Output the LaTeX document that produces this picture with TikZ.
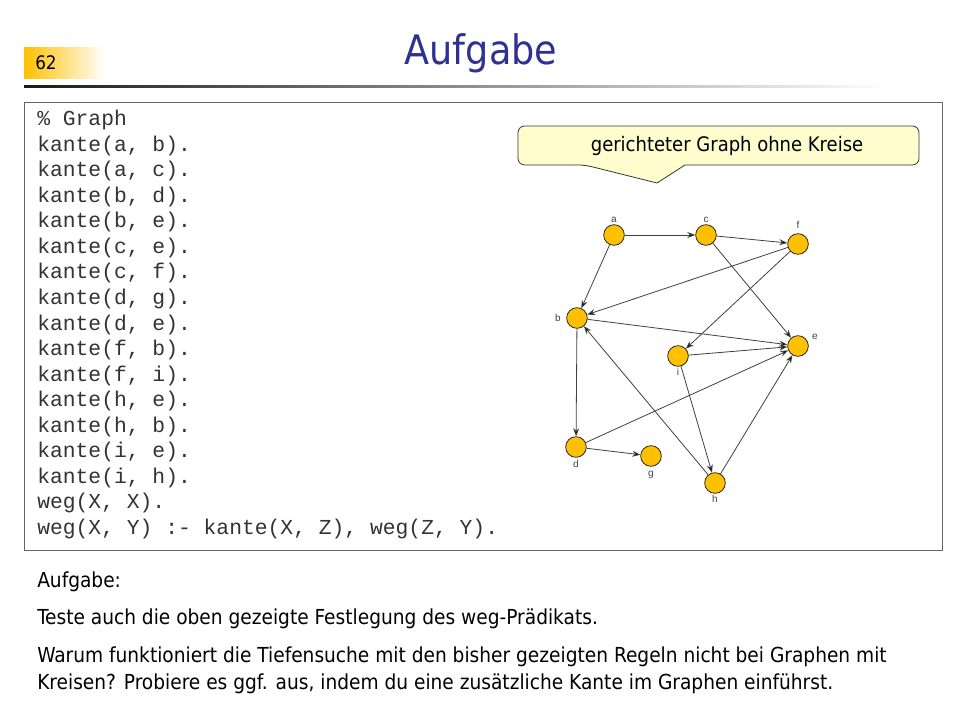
\documentclass[tikz,border=0pt]{standalone}
\usepackage{fontspec}
\setmainfont{DejaVu Sans Condensed}
\setmonofont{Liberation Mono}
\newfontfamily\knotenfont{Liberation Sans}
\usepackage{tikz}
\usetikzlibrary{arrows.meta}
\definecolor{titelblau}{RGB}{46,49,146}
\definecolor{gold}{RGB}{255,192,0}
\definecolor{hinweisgelb}{RGB}{255,253,206}
\tikzset{
  knoten/.style={
    circle,
    draw=black!85, semithick,
    fill=gold,
    minimum size=15.5pt,
    inner sep=0pt,
  },
  knotenlabel/.style={
    font=\knotenfont\fontsize{7.5}{8}\selectfont,
    text=black!75,
    inner sep=1pt,
  },
  kante/.style={
    ->, >={Stealth[length=6pt,width=4.5pt]},
    draw=black!75, line width=0.6pt,
  },
  code/.style={
    font=\ttfamily\fontsize{16}{19}\selectfont,
    text=black!80,
    inner sep=0pt,
  },
  fliesstext/.style={
    font=\fontsize{15.5}{20}\selectfont,
    align=left,
    inner sep=0pt,
  },
}

\begin{document}
\begin{tikzpicture}[x=0.75pt,y=-0.75pt]
  \useasboundingbox (0,0) rectangle (960,720);
  % Kopfzeile
  \shade[left color=gold, right color=white] (24,48) rectangle (105,79);
  \node[anchor=base west, inner sep=0pt, font=\fontsize{14}{16}\selectfont] (nr) at (35,70) {62};
  \node[anchor=base, inner sep=0pt, text=titelblau, font=\fontsize{30.5}{34}\selectfont] (titel) at (481,65) {Aufgabe};
  \shade[left color=black!90, right color=white] (24,85.5) rectangle (890,88);

  % Programm
  \draw[draw=black!60, line width=0.75pt] (24,103) rectangle (942,550);
  \foreach \zeile [count=\n] in {{\% Graph}, {kante(a, b).}, {kante(a, c).}, {kante(b, d).},
      {kante(b, e).}, {kante(c, e).}, {kante(c, f).}, {kante(d, g).}, {kante(d, e).},
      {kante(f, b).}, {kante(f, i).}, {kante(h, e).}, {kante(h, b).}, {kante(i, e).},
      {kante(i, h).}, {weg(X, X).}, {weg(X, Y) :- kante(X, Z), weg(Z, Y).}}
    \node[code, anchor=base west] (z\n) at (37,{126+25.5*(\n-1)}) {\zeile};

  % Sprechblase
  \draw[draw=black!80, fill=hinweisgelb, line width=0.6pt]
    (585,165) -- (657,183) -- (685,165) [rounded corners=5pt] -- (919,165)
    -- (919,126) -- (518,126) -- (518,165) -- cycle;
  \node[anchor=base, inner sep=0pt, font=\fontsize{15}{17}\selectfont] (hinweis) at (727,152) {gerichteter Graph ohne Kreise};

  % Graph
  \node[knoten, label={[knotenlabel]above:a}] (a) at (614,235) {};
  \node[knoten, label={[knotenlabel]above:c}] (c) at (706,235) {};
  \node[knoten, label={[knotenlabel, label distance=2pt]above:f}] (f) at (798,244) {};
  \node[knoten, label={[knotenlabel, label distance=3pt]left:b}] (b) at (577,318) {};
  \node[knoten, label={[knotenlabel, label distance=2pt]20:e}] (e) at (798,346) {};
  \node[knoten, label={[knotenlabel]below:i}] (i) at (678,356) {};
  \node[knoten, label={[knotenlabel, label distance=1pt]below:d}] (d) at (576,447) {};
  \node[knoten, label={[knotenlabel, label distance=2pt]below:g}] (g) at (651,456) {};
  \node[knoten, label={[knotenlabel]below:h}] (h) at (715,483) {};

  \path[kante] (a) edge (b) edge (c)
    (b) edge (d) edge (e)
    (c) edge (e) edge (f)
    (d) edge (g) edge (e)
    (f) edge (b) edge (i)
    (h) edge (e) edge (b)
    (i) edge (e) edge (h);

  % Aufgabe
  \node[fliesstext, anchor=base west] (aufgabe) at (37,587) {Aufgabe:};
  \node[fliesstext, anchor=base west] (teste) at (37,624) {Teste auch die oben gezeigte Festlegung des weg-Prädikats.};
  \node[fliesstext, anchor=base west] (warum) at (37,689) {Warum funktioniert die Tiefensuche mit den bisher gezeigten Regeln nicht bei Graphen mit\\Kreisen? Probiere es ggf. aus, indem du eine zusätzliche Kante im Graphen einführst.};
\end{tikzpicture}
\end{document}
